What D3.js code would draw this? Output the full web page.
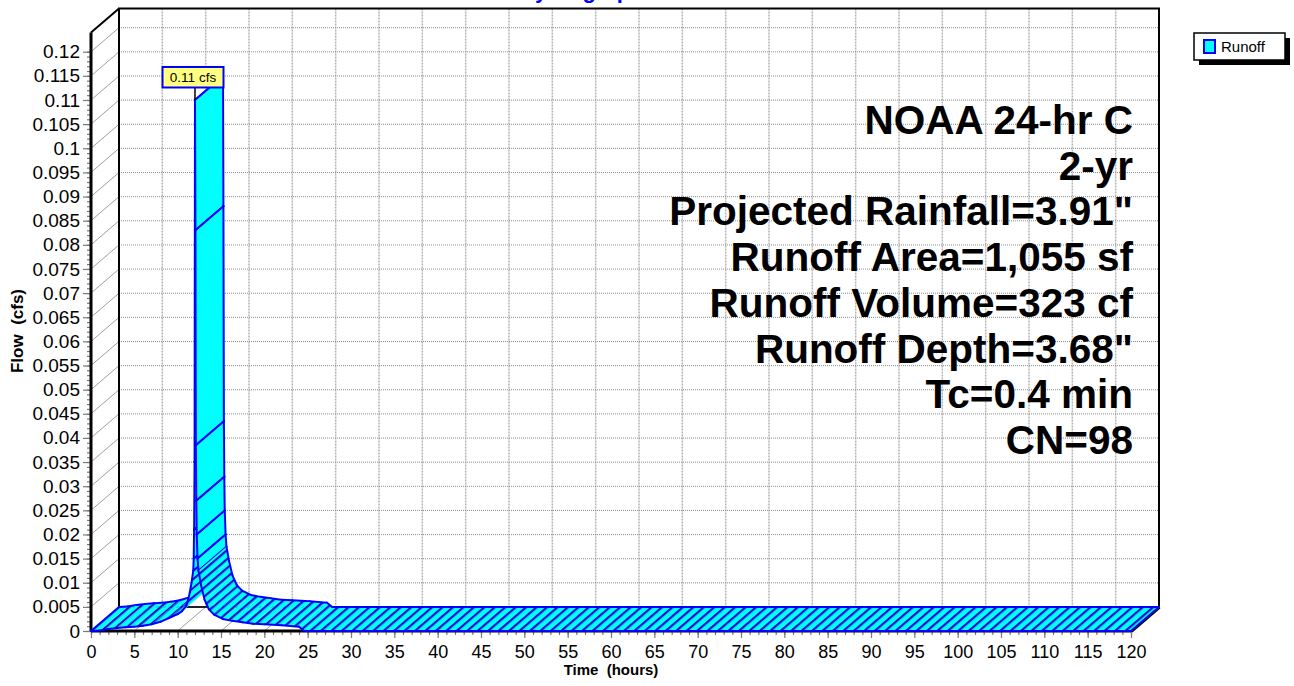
<!DOCTYPE html>
<html>
<head>
<meta charset="utf-8">
<script src="https://cdn.jsdelivr.net/npm/d3@7"></script>
<style>
  body { margin: 0; background: #fff; }
  svg { display: block; }
  text { font-family: "Liberation Sans", Arial, sans-serif; }
</style>
</head>
<body>
<div id="chart"></div>
<script>
// runoff hydrograph, time in hours / flow in cfs
const hours = [0, 1, 2, 3, 4, 5, 6, 7, 8, 9, 10, 10.5, 11, 11.2, 11.4, 11.6, 11.8, 11.85, 11.9, 11.95,
  12.0, 12.05, 12.1, 12.15, 12.2, 12.3, 12.4, 12.7, 13.1, 13.6, 14.2, 15.2, 16.3, 17.5, 18.7, 20, 22, 24, 24.6, 120];
const flows = [0, 0.0001, 0.0004, 0.0006, 0.0008, 0.0009, 0.0011, 0.0014, 0.0019, 0.0027, 0.0035, 0.0041, 0.0052, 0.0064, 0.0080, 0.0100, 0.0125, 0.0150, 0.0210, 0.0350,
  0.1100, 0.0830, 0.0385, 0.0270, 0.0200, 0.0150, 0.0125, 0.0095, 0.0065, 0.0045, 0.0034, 0.0025, 0.0021, 0.0018, 0.0015, 0.0014, 0.0012, 0.0009, 0, 0];

const xTickLabels = ['0', '5', '10', '15', '20', '25', '30', '35', '40', '45', '50', '55', '60', '65', '70', '75', '80', '85', '90', '95', '100', '105', '110', '115', '120'];
const yTickLabels = ['0', '0.005', '0.01', '0.015', '0.02', '0.025', '0.03', '0.035', '0.04', '0.045', '0.05', '0.055', '0.06', '0.065', '0.07', '0.075', '0.08', '0.085', '0.09', '0.095', '0.1', '0.105', '0.11', '0.115', '0.12'];

const infoLines = ['NOAA 24-hr C', '2-yr', 'Projected Rainfall=3.91"', 'Runoff Area=1,055 sf', 'Runoff Volume=323 cf', 'Runoff Depth=3.68"', 'Tc=0.4 min', 'CN=98'];
const seriesName = 'Runoff';

const xTickValues = xTickLabels.map(Number);
const yTickValues = yTickLabels.map(Number);

// layout
const depth = { dx: 28, dy: -24 };
const cyan = '#00ffff';
const blue = '#0000ff';

const xScale = d3.scaleLinear().domain([0, 120]).range([91, 1131]);
const yScale = d3.scaleLinear().domain([0, 0.124]).range([631, 32.4]);

const svg = d3.select('#chart').append('svg').attr('width', 1294).attr('height', 686);

// hatch fill, lines run along the depth direction
const defs = svg.append('defs');
const hatch = defs.append('pattern')
  .attr('id', 'hatch')
  .attr('patternUnits', 'userSpaceOnUse')
  .attr('width', 6.8).attr('height', 6.8)
  .attr('patternTransform', 'rotate(49.4)');
hatch.append('rect').attr('width', 6.8).attr('height', 6.8).attr('fill', cyan);
hatch.append('rect').attr('width', 2.2).attr('height', 6.8).attr('fill', '#1010cc');

const x0 = xScale(0), x1 = xScale(120);
const yTop = yScale(0.124), y0 = yScale(0);

// back wall grid
const walls = svg.append('g');
walls.selectAll('.vgrid')
  .data(xTickValues.slice(1, -1))
  .join('line')
  .attr('x1', (d) => xScale(d) + depth.dx).attr('x2', (d) => xScale(d) + depth.dx)
  .attr('y1', yTop + depth.dy).attr('y2', y0 + depth.dy)
  .attr('stroke', '#b4b4b4').attr('stroke-width', 1.5).attr('stroke-dasharray', '2,1');
walls.selectAll('.hgrid')
  .data(yTickValues.slice(1))
  .join('line')
  .attr('x1', x0 + depth.dx).attr('x2', x1 + depth.dx)
  .attr('y1', (d) => yScale(d) + depth.dy).attr('y2', (d) => yScale(d) + depth.dy)
  .attr('stroke', '#8c8c8c').attr('stroke-width', 1).attr('stroke-dasharray', '1,1');

// side wall and floor diagonals
walls.selectAll('.wall-diag')
  .data(yTickValues.slice(1))
  .join('line')
  .attr('x1', x0).attr('y1', (d) => yScale(d))
  .attr('x2', x0 + depth.dx).attr('y2', (d) => yScale(d) + depth.dy)
  .attr('stroke', '#a0a0a0').attr('stroke-width', 1);
walls.selectAll('.floor-diag')
  .data(xTickValues.slice(1))
  .join('line')
  .attr('x1', (d) => xScale(d)).attr('y1', y0)
  .attr('x2', (d) => xScale(d) + depth.dx).attr('y2', y0 + depth.dy)
  .attr('stroke', '#a0a0a0').attr('stroke-width', 1);

// borders of the box
walls.append('path')
  .attr('d', `M${x0 + depth.dx},${y0 + depth.dy}V${yTop + depth.dy}H${x1 + depth.dx}V${y0 + depth.dy}`)
  .attr('fill', 'none').attr('stroke', '#000').attr('stroke-width', 2);
walls.append('line')
  .attr('x1', x0 + depth.dx).attr('x2', x1 + depth.dx)
  .attr('y1', y0 + depth.dy).attr('y2', y0 + depth.dy)
  .attr('stroke', '#222').attr('stroke-width', 2);
walls.append('line')
  .attr('x1', x0).attr('y1', yTop)
  .attr('x2', x0 + depth.dx).attr('y2', yTop + depth.dy)
  .attr('stroke', '#000').attr('stroke-width', 2);

// axes
const yAxis = svg.append('g').attr('transform', `translate(${x0},0)`);
yAxis.call(d3.axisLeft(yScale).tickValues(d3.range(0, 0.1205, 0.001)).tickSize(4).tickFormat(''));
yAxis.append('g').call(
  d3.axisLeft(yScale).tickValues(yTickValues).tickSize(8).tickPadding(3)
    .tickFormat((d, i) => yTickLabels[i])
);
yAxis.selectAll('.domain').remove();
yAxis.selectAll('line').attr('stroke', '#7a7a7a').attr('stroke-width', 1.2);
yAxis.selectAll('text').attr('font-size', 19).attr('fill', '#000');
yAxis.append('line').attr('y1', yTop).attr('y2', y0).attr('stroke', '#000').attr('stroke-width', 3);

const xAxis = svg.append('g').attr('transform', `translate(0,${y0})`);
xAxis.call(d3.axisBottom(xScale).tickValues(d3.range(0, 121, 1)).tickSize(4).tickFormat(''));
xAxis.append('g').call(
  d3.axisBottom(xScale).tickValues(xTickValues).tickSize(7).tickPadding(7)
    .tickFormat((d, i) => xTickLabels[i])
);
xAxis.selectAll('.domain').remove();
xAxis.selectAll('line').attr('stroke', '#7a7a7a').attr('stroke-width', 1.2);
xAxis.selectAll('text').attr('font-size', 18).attr('fill', '#000');
xAxis.append('line').attr('x1', x0).attr('x2', x1).attr('stroke', '#000').attr('stroke-width', 3);

// 3D ribbon, one quad per segment, painted left to right
const front = hours.map((t, i) => [xScale(t), yScale(flows[i])]);
const toBack = (p) => [p[0] + depth.dx, p[1] + depth.dy];
const ribbon = svg.append('g');
const seg = (a, b) => ribbon.append('line')
  .attr('x1', a[0]).attr('y1', a[1]).attr('x2', b[0]).attr('y2', b[1])
  .attr('stroke', blue).attr('stroke-width', 2).attr('stroke-linecap', 'round');

for (let i = 0; i < front.length - 1; i++) {
  const p0 = front[i], p1 = front[i + 1];
  const b0 = toBack(p0), b1 = toBack(p1);
  const steep = Math.abs(p1[1] - p0[1]) > 8 * (p1[0] - p0[0]);
  ribbon.append('polygon')
    .attr('points', [p0, p1, b1, b0].map((p) => p.join(',')).join(' '))
    .attr('fill', steep ? cyan : 'url(#hatch)')
    .attr('stroke', steep ? cyan : 'none').attr('stroke-width', 0.5);
  seg(p0, p1);
  seg(b0, b1);
  if (steep) {
    seg(p0, b0);
    seg(p1, b1);
  }
}
seg(front[0], toBack(front[0]));
seg(front[front.length - 1], toBack(front[front.length - 1]));
svg.append('line')
  .attr('x1', front[front.length - 1][0] + 1).attr('y1', front[front.length - 1][1] + 1)
  .attr('x2', toBack(front[front.length - 1])[0] + 1).attr('y2', toBack(front[front.length - 1])[1] + 1)
  .attr('stroke', '#000').attr('stroke-width', 1.2);

// peak label
const peakIdx = d3.maxIndex(flows);
const peak = front[peakIdx];
svg.append('line')
  .attr('x1', peak[0]).attr('x2', peak[0]).attr('y1', peak[1]).attr('y2', peak[1] - 13)
  .attr('stroke', '#000').attr('stroke-width', 1.5);
svg.append('rect')
  .attr('x', peak[0] - 32.5).attr('y', peak[1] - 33)
  .attr('width', 61).attr('height', 20.5)
  .attr('fill', '#ffff80').attr('stroke', blue).attr('stroke-width', 2);
svg.append('text')
  .attr('x', peak[0] - 2).attr('y', peak[1] - 18)
  .attr('text-anchor', 'middle').attr('font-size', 13.5)
  .text(d3.format('.2f')(flows[peakIdx]) + ' cfs');

// axis titles
svg.append('text')
  .attr('transform', 'translate(23,331) rotate(-90)')
  .attr('text-anchor', 'middle').attr('font-size', 17).attr('font-weight', 'bold')
  .style('white-space', 'pre')
  .text('Flow  (cfs)');
svg.append('text')
  .attr('x', 611).attr('y', 675)
  .attr('text-anchor', 'middle').attr('font-size', 15).attr('font-weight', 'bold')
  .style('white-space', 'pre')
  .text('Time  (hours)');

// title (mostly above the page edge)
svg.append('text')
  .attr('x', 519).attr('y', -2.5)
  .attr('font-size', 22).attr('font-weight', 'bold').attr('fill', blue)
  .text('Hydrograph');

// storm info block
svg.append('g').selectAll('text')
  .data(infoLines)
  .join('text')
  .attr('x', 1133).attr('y', (d, i) => 134 + i * 45.7)
  .attr('text-anchor', 'end').attr('font-size', 40.5).attr('font-weight', 'bold')
  .text((d) => d);

// legend
const legend = svg.append('g');
legend.append('rect').attr('x', 1199).attr('y', 38).attr('width', 91).attr('height', 27).attr('fill', '#000');
legend.append('rect').attr('x', 1194).attr('y', 33).attr('width', 91).attr('height', 27)
  .attr('fill', '#fff').attr('stroke', '#000').attr('stroke-width', 1.5);
legend.append('rect').attr('x', 1204).attr('y', 40).attr('width', 11).attr('height', 13)
  .attr('fill', cyan).attr('stroke', blue).attr('stroke-width', 2);
legend.append('text').attr('x', 1221).attr('y', 52).attr('font-size', 15).text(seriesName);
</script>
</body>
</html>
